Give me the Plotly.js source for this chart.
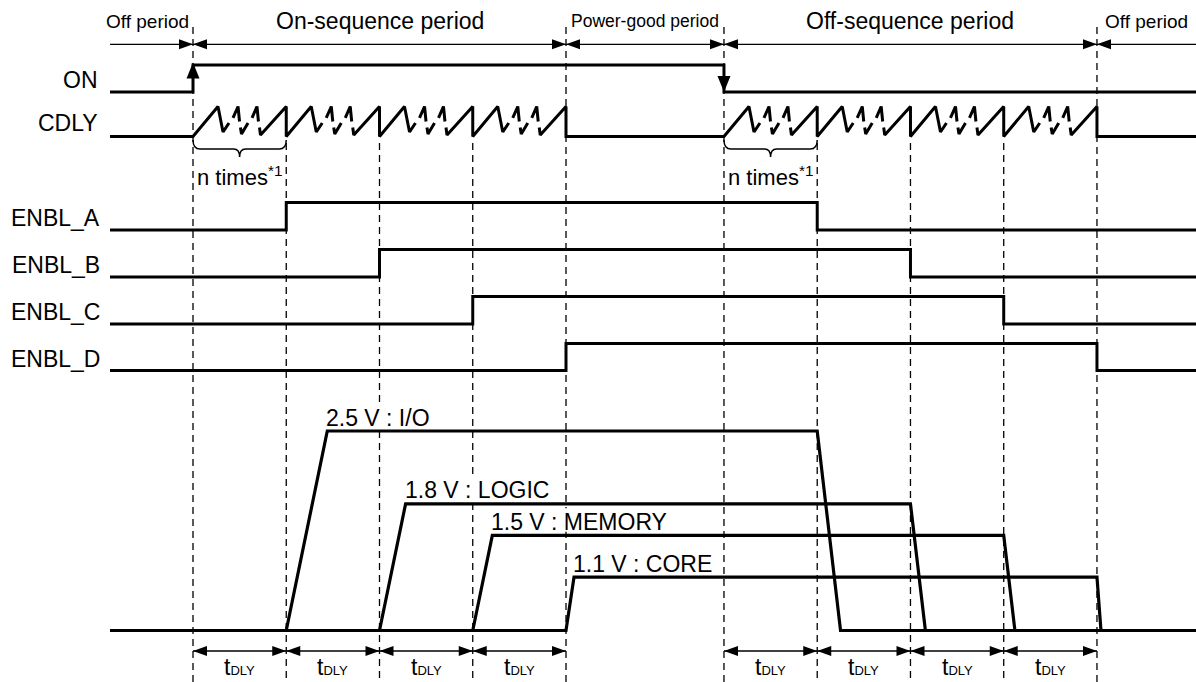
<!DOCTYPE html>
<html><head><meta charset="utf-8">
<script src="https://cdn.plot.ly/plotly-3.0.1.min.js"></script>
<style>html,body{margin:0;padding:0;background:#fff}</style>
</head><body><div id="chart" style="width:1196px;height:682px"></div>
<script>
// ---------------- data (time in units of tDLY, t = 0 at ON rising edge) ----------------
const signalStart = -0.89;
const signalEnd = 11;
const onRise = 0;
const onFall = 5.694;
const enblNames = ['ENBL_A', 'ENBL_B', 'ENBL_C', 'ENBL_D'];
const enblRise = [1, 2, 3, 4];
const enblFall = [6.694, 7.694, 8.694, 9.694];
const railNames = ['2.5 V : I/O', '1.8 V : LOGIC', '1.5 V : MEMORY', '1.1 V : CORE'];
const railLevel = [1.0, 0.635, 0.477, 0.268];   // drawn height, relative to the 2.5 V rail
const railRise = [0.44, 0.28, 0.21, 0.086];     // ramp-up time
const railFall = [0.25, 0.16, 0.12, 0.043];     // ramp-down time
const cdlyOnStarts = [0, 1, 2, 3];
const cdlyOffStarts = [5.694, 6.694, 7.694, 8.694];
// one CDLY burst (within one tDLY): fraction of tDLY, level (0 = low, 1 = peak); null = break
const cdlyFrac = [0, .268, .322, .386, null, .429, .483, .499, null, .509, .520, .590, null, .633, .686, .702, null, .713, .724, 1, 1];
const cdlyLvl  = [0, 1, .15, .45, null, .62, 1, .5, null, .3, .08, .45, null, .62, 1, .5, null, .3, .05, 1, 0];
const periodNames = ['Off period', 'On-sequence period', 'Power-good period', 'Off-sequence period', 'Off period'];
const periodBounds = [signalStart, 0, 4, 5.694, 9.694, 10.756];
const nTimesLabel = 'n times<sup>*1</sup>';
const tdlyLabel = 't<span style="font-size:13px">DLY</span>';

// ---------------- layout geometry (pixels) ----------------
const W = 1196, H = 682;
const PX = 93.25, X0PX = 193;
const xRange = [-X0PX / PX, (W - X0PX) / PX];
const u = px => px / PX;
const FONT = 'Liberation Sans, Arial, Helvetica, sans-serif';
const rowGeom = {
  ON: [92, 65], CDLY: [136.5, 106.5],
  ENBL_A: [230, 202.5], ENBL_B: [277, 249.5], ENBL_C: [324, 296.5], ENBL_D: [370.5, 343.5],
  RAIL: [630.5, 431]
};
const rowAxis = {ON: 'y2', CDLY: 'y3', ENBL_A: 'y4', ENBL_B: 'y5', ENBL_C: 'y6', ENBL_D: 'y7', RAIL: 'y8'};
const railLabelW = [108, 150, 182, 143];
const arrowY = 44.3, tdlyArrowY = 651, braceTop = 140, braceMid = 149, braceTip = 157;

const layout = {
  width: W, height: H, autosize: false,
  margin: {l: 0, r: 0, t: 0, b: 0, pad: 0},
  paper_bgcolor: '#fff', plot_bgcolor: 'rgba(0,0,0,0)',
  showlegend: false,
  xaxis: {range: xRange, visible: false, fixedrange: true, domain: [0, 1], anchor: 'y'},
  yaxis: {range: [H, 0], visible: false, fixedrange: true, domain: [0, 1], anchor: 'x'},
  shapes: [], annotations: []
};
Object.keys(rowGeom).forEach(k => {
  const [low, high] = rowGeom[k];
  const A = low - high, pad = 6;
  const name = 'yaxis' + rowAxis[k].slice(1);
  layout[name] = {range: [-pad / A, 1 + pad / A], domain: [1 - (low + pad) / H, 1 - (high - pad) / H],
    visible: false, fixedrange: true, anchor: 'x'};
});

// ---------------- traces ----------------
const line = {color: '#000', width: 3};
const traces = [];
const step = (rise, fall) => ({x: [signalStart, rise, rise, fall, fall, signalEnd], y: [0, 0, 1, 1, 0, 0]});
traces.push(Object.assign({type: 'scatter', mode: 'lines', yaxis: 'y2', line, hoverinfo: 'skip'}, step(onRise, onFall)));
// CDLY
(function () {
  const x = [signalStart], y = [0];
  const burst = starts => starts.forEach(s => cdlyFrac.forEach((f, i) => {
    x.push(f === null ? null : s + f); y.push(cdlyLvl[i]);
  }));
  burst(cdlyOnStarts);
  x.push(cdlyOffStarts[0]); y.push(0);
  burst(cdlyOffStarts);
  x.push(signalEnd); y.push(0);
  traces.push({type: 'scatter', mode: 'lines', x, y, yaxis: 'y3', line, hoverinfo: 'skip', connectgaps: false});
})();
enblNames.forEach((n, i) => {
  traces.push(Object.assign({type: 'scatter', mode: 'lines', yaxis: rowAxis[n], line, hoverinfo: 'skip', name: n},
    step(enblRise[i], enblFall[i])));
});
railNames.forEach((n, i) => {
  const r = enblRise[i], f = enblFall[i], L = railLevel[i];
  traces.push({type: 'scatter', mode: 'lines', yaxis: 'y8', name: n, hoverinfo: 'skip',
    line: {color: '#000', width: 3.2},
    x: [signalStart, r, r + railRise[i], f, f + railFall[i], signalEnd], y: [0, 0, L, L, 0, 0]});
});

// ---------------- shapes ----------------
const dash = {color: '#000', width: 1.3, dash: '7px,5px'};
[onRise, enblRise[3], onFall, enblFall[3]].forEach(t =>
  layout.shapes.push({type: 'line', xref: 'x', yref: 'y', x0: t, x1: t, y0: 27, y1: H, line: dash, layer: 'below'}));
[...enblRise.slice(0, 3), ...enblFall.slice(0, 3)].forEach(t =>
  layout.shapes.push({type: 'line', xref: 'x', yref: 'y', x0: t, x1: t, y0: 143, y1: H, line: dash, layer: 'below'}));
// white boxes behind rail labels
const [railLow, railHigh] = rowGeom.RAIL;
railNames.forEach((n, i) => {
  const lx = enblRise[i] + railRise[i] - u(2);
  const top = railLow - railLevel[i] * (railLow - railHigh);
  layout.shapes.push({type: 'rect', xref: 'x', yref: 'y', x0: lx - u(2), x1: lx + u(railLabelW[i] + 2),
    y0: top - 27, y1: top - 3.5, fillcolor: '#fff', line: {width: 0}, layer: 'below'});
});
// arrows
const thin = {color: '#000', width: 1.3};
function tri(x, y, dir, len, half) {
  let p;
  if (dir === 'r') p = `M${x},${y} L${x - u(len)},${y - half} L${x - u(len)},${y + half} Z`;
  if (dir === 'l') p = `M${x},${y} L${x + u(len)},${y - half} L${x + u(len)},${y + half} Z`;
  if (dir === 'u') p = `M${x},${y} L${x - u(half)},${y + len} L${x + u(half)},${y + len} Z`;
  if (dir === 'd') p = `M${x},${y} L${x - u(half)},${y - len} L${x + u(half)},${y - len} Z`;
  layout.shapes.push({type: 'path', xref: 'x', yref: 'y', path: p, fillcolor: '#000', line: {width: 0}});
}
function hArrow(a, b, y, left, right) {
  layout.shapes.push({type: 'line', xref: 'x', yref: 'y', x0: a, x1: b, y0: y, y1: y, line: thin});
  if (left) tri(a, y, 'l', 14, 5);
  if (right) tri(b, y, 'r', 14, 5);
}
for (let i = 0; i < periodNames.length; i++) {
  hArrow(periodBounds[i], periodBounds[i + 1], arrowY, i > 0, i < periodNames.length - 1);
}
const tdlyBounds = [[0, ...enblRise], [onFall, ...enblFall]];
tdlyBounds.forEach(b => { for (let i = 0; i < b.length - 1; i++) hArrow(b[i], b[i + 1], tdlyArrowY, true, true); });
// ON edge arrows
tri(onRise, 62.5, 'u', 16, 6.5);
tri(onFall, 92, 'd', 16, 6.5);
// braces
[[0, 1], [onFall, enblFall[0]]].forEach(([a, b]) => {
  const m = (a + b) / 2, c = u(7), d = u(6);
  const p = `M${a},${braceTop} Q${a},${braceMid} ${a + c},${braceMid} L${m - d},${braceMid} Q${m},${braceMid} ${m},${braceTip} ` +
            `Q${m},${braceMid} ${m + d},${braceMid} L${b - c},${braceMid} Q${b},${braceMid} ${b},${braceTop}`;
  layout.shapes.push({type: 'path', xref: 'x', yref: 'y', path: p, line: {color: '#000', width: 1.5}});
  layout.annotations.push({xref: 'x', yref: 'y', x: m, y: 176, text: nTimesLabel, showarrow: false,
    font: {family: FONT, size: 22, color: '#000'}, xanchor: 'center', yanchor: 'middle'});
});

// ---------------- annotations ----------------
const ann = (o) => layout.annotations.push(Object.assign({showarrow: false, font: {family: FONT, size: 23, color: '#000'}}, o));
['ON', 'CDLY', ...enblNames].forEach(k => {
  const [low, high] = rowGeom[k];
  ann({xref: 'paper', yref: 'y', x: (k.startsWith('ENBL') ? 102 : 100) / W, y: (low + high) / 2 + 1.5,
    text: k, xanchor: 'right', yanchor: 'middle'});
});
const periodSizes = [19, 23, 17.5, 23, 19];
periodNames.forEach((n, i) => {
  ann({xref: 'x', yref: 'y', x: (periodBounds[i] + periodBounds[i + 1]) / 2, y: 21, text: n,
    xshift: i === 0 ? -4 : 0, xanchor: 'center', yanchor: 'middle',
    font: {family: FONT, size: periodSizes[i], color: '#000'}});
});
railNames.forEach((n, i) => {
  ann({xref: 'x', yref: 'y8', x: enblRise[i] + railRise[i], y: railLevel[i], text: n,
    xanchor: 'left', yanchor: 'middle', xshift: -3, yshift: 13.5});
});
tdlyBounds.forEach(b => {
  for (let i = 0; i < b.length - 1; i++)
    ann({xref: 'x', yref: 'y', x: (b[i] + b[i + 1]) / 2, y: 667, text: tdlyLabel, xanchor: 'center', yanchor: 'middle'});
});

Plotly.newPlot('chart', traces, layout, {staticPlot: true, displayModeBar: false});
</script>
</body></html>
